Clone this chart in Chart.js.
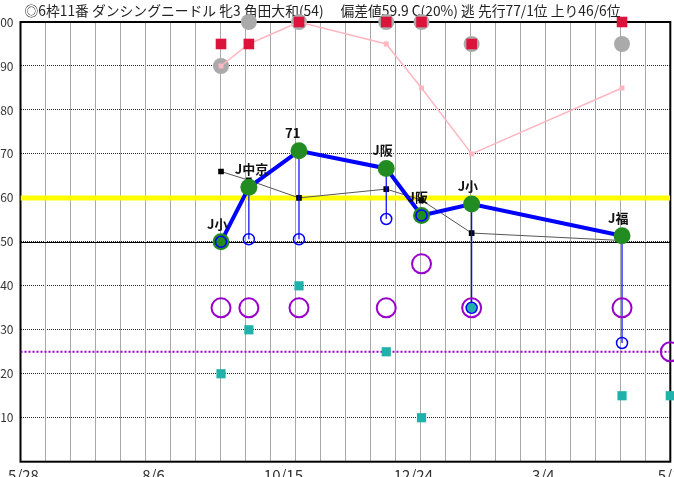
<!DOCTYPE html>
<html>
<head>
<meta charset="UTF-8">
<script src="https://cdn.jsdelivr.net/npm/chart.js@4.4.0/dist/chart.umd.min.js"></script>
<title>ダンシングニードル</title>
<style>
	body { margin: 0; width: 674px; height: 477px; overflow: hidden; background: #fff; position: relative; }
	#wrap { position: absolute; left: -20px; top: 0; }
</style>
</head>
<body>
	<div id="wrap"><canvas id="raceChart" width="720" height="490"></canvas></div>
	<script>
		var titleText = '◎6枠11番 ダンシングニードル 牝3 角田大和(54)　 偏差値59.9 C(20%) 逃 先行77/1位 上り46/6位';

		// x軸は 5/28 からの日数
		var tickDays = [0, 70, 140, 210, 280, 350];
		var tickLabels = ['5/28', '8/6', '10/15', '12/24', '3/4', '5/13'];
		var gridCount = 26;

		var raceDays = [108, 123, 150, 197, 216, 243, 324, 350];
		var raceLabels = ['J小', 'J中京', '71', 'J阪', 'J阪', 'J小', 'J福'];
		var indexVals = [50, 62.4, 70.7, 66.7, 56, 58.6, 51.4];
		var blueVals = [50, 50.6, 50.6, 55.2, 56, 35, 27];
		var blackVals = [66, 64, 60, 62, 59.5, 52, 50.3];
		var pinkVals = [90, 95, 100, 95, 85, 70, 85];
		var redVals = [95, 95, 100, 100, 100, 95, 100];
		var grayVals = [90, 100, 100, 100, 100, 95, 95];
		var purpleVals = [35, 35, 35, 35, 45, 35, 35, 25];
		var tealVals = [20, 30, 40, 25, 10, 35, 15, 15];
		var avgLine = 60;
		var dotLine = 25;
		var baseLine = 50;

		var jpFont = '"Noto Sans CJK JP", "Noto Sans", sans-serif';
		var firstDay = tickDays[0];
		var lastDay = tickDays[tickDays.length - 1];

		function pts(vals) {
			return vals.map(function(v, i) { return { x: raceDays[i], y: v }; });
		}

		function hline(v) {
			return [ { x: firstDay, y: v }, { x: lastDay, y: v } ];
		}

		// 指数から下の青丸までの縦線
		function stems() {
			var out = [];
			for (var i = 0; i < indexVals.length; i++) {
				out.push({ x: raceDays[i], y: indexVals[i] });
				out.push({ x: raceDays[i], y: blueVals[i] });
				out.push({ x: raceDays[i], y: null });
			}
			return out;
		}

		// 縦の補助線・50の線・枠・見出し
		var framePlugin = {
			id: 'frame',
			beforeDatasetsDraw: function(chart) {
				var a = chart.chartArea, ctx = chart.ctx, xs = chart.scales.x;
				var y = chart.scales.y.getPixelForValue(baseLine);
				var step = (lastDay - firstDay) / gridCount;
				ctx.save();
				ctx.strokeStyle = '#a8a8a8';
				ctx.lineWidth = 1;
				for (var g = 1; g < gridCount; g++) {
					var px = Math.round(xs.getPixelForValue(firstDay + step * g)) + 0.5;
					ctx.beginPath();
					ctx.moveTo(px, a.top);
					ctx.lineTo(px, a.bottom);
					ctx.stroke();
				}
				ctx.strokeStyle = '#000';
				ctx.beginPath();
				ctx.moveTo(a.left, Math.round(y) + 0.5);
				ctx.lineTo(a.right, Math.round(y) + 0.5);
				ctx.stroke();
				ctx.lineWidth = 2;
				ctx.strokeRect(a.left, a.top, a.right - a.left, a.bottom - a.top);
				ctx.font = '13.8px ' + jpFont;
				ctx.fillStyle = '#222';
				ctx.textAlign = 'left';
				ctx.textBaseline = 'middle';
				ctx.fillText(titleText, a.left + 4, 11);
				ctx.restore();
			}
		};

		var labelPlugin = {
			id: 'raceLabels',
			afterDatasetsDraw: function(chart) {
				var ctx = chart.ctx, xs = chart.scales.x, ys = chart.scales.y;
				ctx.save();
				ctx.font = 'bold 13px ' + jpFont;
				ctx.fillStyle = '#111';
				ctx.textAlign = 'left';
				ctx.textBaseline = 'middle';
				for (var i = 0; i < raceLabels.length; i++) {
					ctx.fillText(raceLabels[i], xs.getPixelForValue(raceDays[i]) - 14, ys.getPixelForValue(indexVals[i]) - 18);
				}
				ctx.restore();
			}
		};

		var ctx = document.getElementById('raceChart').getContext('2d');
		var chart = new Chart(ctx, {
			type: 'line',
			data: {
				datasets: [ {
					label: '青丸',
					data: pts(blueVals),
					showLine: false,
					pointRadius: 5.5,
					pointBorderWidth: 1.5,
					pointBorderColor: '#0000ff',
					pointBackgroundColor: 'rgba(0,0,0,0)',
					order: 0
				}, {
					label: '指数',
					data: pts(indexVals),
					borderColor: '#0000ff',
					borderWidth: 4,
					pointRadius: 8.5,
					pointBorderWidth: 0,
					pointBackgroundColor: '#228b22',
					tension: 0,
					order: 1
				}, {
					label: '緑四角',
					data: pts(tealVals),
					showLine: false,
					pointStyle: 'rect',
					pointRadius: 6.5,
					pointBorderWidth: 0,
					pointBackgroundColor: '#20b2aa',
					clip: false,
					order: 2
				}, {
					label: '紫丸',
					data: pts(purpleVals),
					showLine: false,
					pointRadius: 9.5,
					pointBorderWidth: 2,
					pointBorderColor: '#9900cc',
					pointBackgroundColor: 'rgba(0,0,0,0)',
					clip: false,
					order: 3
				}, {
					label: '縦線',
					data: stems(),
					borderColor: '#0000ff',
					borderWidth: 1.2,
					pointRadius: 0,
					spanGaps: false,
					order: 4
				}, {
					label: '黒',
					data: pts(blackVals),
					borderColor: '#555',
					borderWidth: 1,
					pointStyle: 'rect',
					pointRadius: 4,
					pointBorderWidth: 0,
					pointBackgroundColor: '#000',
					tension: 0,
					order: 5
				}, {
					label: '赤',
					data: pts(redVals),
					showLine: false,
					pointStyle: 'rect',
					pointRadius: 7.5,
					pointBorderWidth: 0,
					pointBackgroundColor: '#dc143c',
					clip: false,
					order: 6
				}, {
					label: 'ピンク',
					data: pts(pinkVals),
					borderColor: '#ffb6c1',
					borderWidth: 1.5,
					pointStyle: 'rect',
					pointRadius: 3.5,
					pointBorderWidth: 0,
					pointBackgroundColor: '#ffb6c1',
					tension: 0,
					clip: false,
					order: 7
				}, {
					label: '灰丸',
					data: pts(grayVals),
					showLine: false,
					pointRadius: 8,
					pointBorderWidth: 0,
					pointBackgroundColor: '#aaaaaa',
					clip: false,
					order: 8
				}, {
					label: '点線',
					data: hline(dotLine),
					borderColor: '#9900cc',
					borderWidth: 2,
					borderDash: [2, 2],
					pointRadius: 0,
					order: 9
				}, {
					label: '平均',
					data: hline(avgLine),
					borderColor: '#ffff00',
					borderWidth: 5,
					pointRadius: 0,
					order: 10
				} ]
			},
			options: {
				responsive: false,
				animation: false,
				layout: { padding: { left: 0, right: 29.7, top: 22, bottom: 0 } },
				plugins: {
					legend: { display: false },
					tooltip: { enabled: false }
				},
				scales: {
					x: {
						type: 'linear',
						position: 'bottom',
						min: firstDay,
						max: lastDay,
						afterFit: function(scale) { scale.height = 0; },
						ticks: { display: false },
						grid: { display: false },
						border: { display: false }
					},
					// 日付ラベルの軸
					xDate: {
						type: 'linear',
						position: 'bottom',
						min: firstDay,
						max: lastDay,
						afterBuildTicks: function(scale) {
							scale.ticks = tickDays.map(function(d) { return { value: d }; });
						},
						afterFit: function(scale) { scale.height = 28.3; },
						ticks: {
							autoSkip: false,
							maxRotation: 0,
							padding: 5,
							labelOffset: 3,
							color: '#333',
							font: { family: jpFont, size: 15 },
							callback: function(value) {
								var k = tickDays.indexOf(value);
								return k >= 0 ? tickLabels[k] : '';
							}
						},
						grid: { display: false, drawTicks: false },
						border: { display: false }
					},
					y: {
						min: 0,
						max: 100,
						afterFit: function(scale) { scale.width = 40.5; },
						ticks: {
							stepSize: 10,
							padding: 7,
							color: '#333',
							font: { family: jpFont, size: 12 },
							callback: function(value) { return value === 0 ? '' : value; }
						},
						grid: { drawTicks: false, color: '#222', lineWidth: 1 },
						border: { display: false, dash: [1, 1] }
					}
				}
			},
			plugins: [ framePlugin, labelPlugin ]
		});
	</script>
</body>
</html>
